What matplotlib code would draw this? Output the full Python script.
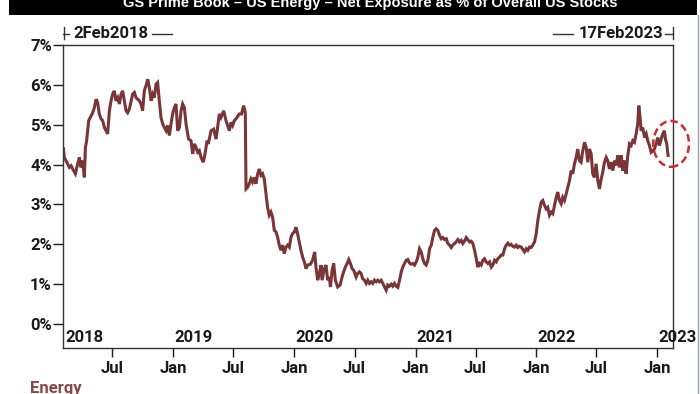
import matplotlib
matplotlib.use("Agg")
import matplotlib.pyplot as plt
import matplotlib.dates as mdates
from matplotlib.patches import Ellipse, Rectangle
from matplotlib.lines import Line2D
from datetime import datetime

# ---------------- data (decimal year, net exposure %) ----------------
years = [
    2018.091, 2018.099, 2018.113, 2018.126, 2018.140, 2018.155, 2018.168, 2018.190, 2018.209, 2018.223,
    2018.237, 2018.250, 2018.264, 2018.273, 2018.283, 2018.300, 2018.320, 2018.333, 2018.347, 2018.361,
    2018.374, 2018.388, 2018.402, 2018.416, 2018.430, 2018.444, 2018.457, 2018.471, 2018.485, 2018.498,
    2018.512, 2018.526, 2018.540, 2018.554, 2018.568, 2018.581, 2018.595, 2018.609, 2018.622, 2018.636,
    2018.664, 2018.678, 2018.692, 2018.719, 2018.733, 2018.746, 2018.760, 2018.774, 2018.788, 2018.802,
    2018.816, 2018.829, 2018.843, 2018.857, 2018.870, 2018.884, 2018.898, 2018.912, 2018.926, 2018.940,
    2018.953, 2018.967, 2018.981, 2018.994, 2019.008, 2019.022, 2019.036, 2019.050, 2019.064, 2019.077,
    2019.091, 2019.105, 2019.126, 2019.146, 2019.160, 2019.174, 2019.188, 2019.201, 2019.215, 2019.229,
    2019.248, 2019.262, 2019.279, 2019.289, 2019.312, 2019.333, 2019.353, 2019.366, 2019.380, 2019.394,
    2019.416, 2019.436, 2019.449, 2019.463, 2019.477, 2019.490, 2019.504, 2019.526, 2019.545, 2019.564,
    2019.581, 2019.595, 2019.601, 2019.614, 2019.628, 2019.642, 2019.655, 2019.669, 2019.683, 2019.697,
    2019.711, 2019.725, 2019.738, 2019.752, 2019.766, 2019.779, 2019.793, 2019.807, 2019.821, 2019.835,
    2019.849, 2019.862, 2019.876, 2019.890, 2019.903, 2019.917, 2019.931, 2019.945, 2019.959, 2019.973,
    2019.986, 2020.000, 2020.014, 2020.027, 2020.041, 2020.055, 2020.069, 2020.083, 2020.097, 2020.110,
    2020.132, 2020.151, 2020.168, 2020.179, 2020.193, 2020.207, 2020.221, 2020.229, 2020.248, 2020.262,
    2020.275, 2020.289, 2020.298, 2020.312, 2020.325, 2020.339, 2020.358, 2020.378, 2020.394, 2020.407,
    2020.421, 2020.436, 2020.449, 2020.463, 2020.477, 2020.490, 2020.510, 2020.523, 2020.537, 2020.551,
    2020.564, 2020.579, 2020.593, 2020.606, 2020.620, 2020.634, 2020.647, 2020.661, 2020.675, 2020.688,
    2020.702, 2020.717, 2020.730, 2020.744, 2020.758, 2020.771, 2020.785, 2020.799, 2020.812, 2020.826,
    2020.840, 2020.854, 2020.868, 2020.882, 2020.895, 2020.909, 2020.923, 2020.936, 2020.950, 2020.964,
    2020.978, 2020.992, 2021.006, 2021.019, 2021.033, 2021.047, 2021.060, 2021.074, 2021.088, 2021.102,
    2021.116, 2021.130, 2021.143, 2021.157, 2021.171, 2021.184, 2021.198, 2021.212, 2021.226, 2021.240,
    2021.254, 2021.267, 2021.281, 2021.295, 2021.308, 2021.322, 2021.336, 2021.350, 2021.364, 2021.378,
    2021.391, 2021.405, 2021.419, 2021.432, 2021.446, 2021.460, 2021.474, 2021.488, 2021.502, 2021.515,
    2021.529, 2021.543, 2021.556, 2021.570, 2021.584, 2021.598, 2021.612, 2021.626, 2021.639, 2021.653,
    2021.667, 2021.680, 2021.694, 2021.708, 2021.722, 2021.736, 2021.750, 2021.763, 2021.777, 2021.791,
    2021.804, 2021.818, 2021.832, 2021.846, 2021.860, 2021.874, 2021.887, 2021.901, 2021.915, 2021.928,
    2021.942, 2021.956, 2021.969, 2021.984, 2021.998, 2022.011, 2022.025, 2022.039, 2022.052, 2022.066,
    2022.080, 2022.093, 2022.107, 2022.122, 2022.135, 2022.149, 2022.163, 2022.176, 2022.190, 2022.204,
    2022.217, 2022.231, 2022.246, 2022.259, 2022.273, 2022.287, 2022.300, 2022.314, 2022.328, 2022.341,
    2022.355, 2022.369, 2022.383, 2022.397, 2022.411, 2022.424, 2022.438, 2022.452, 2022.465, 2022.479,
    2022.493, 2022.507, 2022.521, 2022.535, 2022.548, 2022.562, 2022.576, 2022.589, 2022.603, 2022.617,
    2022.631, 2022.645, 2022.659, 2022.672, 2022.686, 2022.700, 2022.713, 2022.727, 2022.741, 2022.755,
    2022.769, 2022.783, 2022.796, 2022.810, 2022.824, 2022.837, 2022.846, 2022.857, 2022.865, 2022.879,
    2022.893, 2022.907, 2022.920, 2022.934, 2022.948, 2022.961, 2022.975, 2022.989, 2023.003, 2023.017,
    2023.031, 2023.044, 2023.058, 2023.066, 2023.077, 2023.088,
]

exposure = [
    4.40, 4.18, 4.10, 4.02, 3.93, 3.97, 3.89, 3.77, 4.02, 4.18,
    3.93, 4.10, 3.68, 4.43, 4.60, 5.10, 5.22, 5.30, 5.43, 5.64,
    5.56, 5.27, 5.15, 5.10, 4.93, 4.85, 4.77, 5.35, 5.60, 5.77,
    5.85, 5.60, 5.68, 5.52, 5.77, 5.85, 5.60, 5.35, 5.30, 5.39,
    5.77, 5.81, 5.68, 5.60, 5.52, 5.35, 5.85, 5.98, 6.14, 5.93,
    5.60, 5.77, 5.68, 6.02, 6.06, 5.60, 5.18, 5.02, 4.93, 4.85,
    4.98, 4.73, 5.02, 5.27, 5.43, 5.52, 4.85, 4.93, 5.35, 5.52,
    5.43, 5.02, 4.64, 4.60, 4.27, 4.52, 4.43, 4.31, 4.35, 4.18,
    4.06, 4.27, 4.60, 4.52, 4.85, 4.89, 4.64, 4.93, 5.27, 5.18,
    5.35, 5.10, 4.98, 4.85, 5.06, 4.98, 5.10, 5.18, 5.27, 5.27,
    5.48, 5.31, 3.39, 3.43, 3.52, 3.64, 3.56, 3.68, 3.52, 3.77,
    3.89, 3.73, 3.77, 3.64, 3.27, 2.93, 2.73, 2.81, 2.68, 2.35,
    2.31, 2.18, 1.98, 1.85, 1.98, 1.77, 1.93, 1.98, 1.93, 2.18,
    2.27, 2.31, 2.43, 2.27, 2.06, 1.85, 1.68, 1.56, 1.39, 1.48,
    1.50, 1.60, 1.81, 1.43, 1.10, 1.27, 1.48, 1.10, 1.39, 1.48,
    1.10, 1.18, 0.93, 1.35, 1.52, 1.10, 0.93, 0.98, 1.18, 1.31,
    1.43, 1.52, 1.62, 1.52, 1.39, 1.35, 1.18, 1.27, 1.31, 1.27,
    1.14, 1.10, 1.02, 1.10, 1.02, 1.06, 1.02, 1.10, 1.06, 1.10,
    1.06, 1.10, 1.02, 0.93, 0.85, 0.98, 0.95, 1.00, 0.95, 1.02,
    0.95, 0.92, 1.10, 1.31, 1.43, 1.52, 1.60, 1.62, 1.53, 1.50,
    1.52, 1.48, 1.56, 1.68, 1.89, 1.81, 1.64, 1.52, 1.48, 1.60,
    1.89, 1.98, 2.18, 2.35, 2.39, 2.35, 2.23, 2.14, 2.17, 2.12,
    2.14, 2.02, 1.98, 1.92, 1.98, 2.02, 2.06, 2.12, 2.06, 2.10,
    2.02, 2.08, 2.17, 2.12, 2.06, 2.08, 2.02, 1.85, 1.64, 1.43,
    1.52, 1.48, 1.60, 1.64, 1.56, 1.52, 1.56, 1.43, 1.48, 1.60,
    1.56, 1.64, 1.68, 1.73, 1.73, 1.89, 1.98, 2.03, 1.98, 2.00,
    1.95, 1.93, 1.98, 1.92, 1.95, 1.93, 1.87, 1.81, 1.89, 1.85,
    1.93, 1.92, 1.98, 2.06, 2.27, 2.60, 2.85, 3.06, 3.10, 2.98,
    2.89, 2.93, 2.73, 2.81, 2.77, 2.98, 3.18, 3.31, 3.10, 3.02,
    3.18, 3.10, 3.27, 3.43, 3.60, 3.85, 3.77, 4.02, 4.18, 4.39,
    4.10, 4.06, 4.35, 4.56, 4.43, 4.06, 4.39, 4.27, 3.77, 3.68,
    4.02, 3.60, 3.39, 3.64, 3.81, 4.06, 4.18, 4.10, 3.89, 4.06,
    3.85, 4.10, 3.98, 4.23, 3.93, 4.23, 3.85, 4.10, 3.77, 4.23,
    4.52, 4.48, 4.60, 4.56, 4.77, 5.02, 5.48, 5.18, 4.85, 4.93,
    4.68, 4.77, 4.60, 4.48, 4.31, 4.35, 4.39, 4.52, 4.68, 4.48,
    4.64, 4.77, 4.85, 4.64, 4.52, 4.23,
]

title = "GS Prime Book \u2013 US Energy \u2013 Net Exposure as % of Overall US Stocks"
start_label = "2Feb2018"
end_label = "17Feb2023"
y_ticks = [0, 1, 2, 3, 4, 5, 6, 7]
year_labels = ["2018", "2019", "2020", "2021", "2022", "2023"]
series_name = "Energy"

# highlight ellipse (centre as decimal year / %, size in days / %)
circle_center = (2023.113, 4.52)
circle_size = (108, 1.15)

# ---------------- helpers ----------------
def yr2date(y):
    yr = int(y)
    s = datetime(yr, 1, 1)
    e = datetime(yr + 1, 1, 1)
    return s + (e - s) * (y - yr)

FONT = ['Roboto', 'DejaVu Sans']
plt.rcParams['font.family'] = FONT
plt.rcParams['font.weight'] = 'bold'
FS = 12

LINE_COLOR = '#7a3636'
DARK = '#1a1a1a'
W, H = 700, 394

fig = plt.figure(figsize=(7, 3.94), dpi=100)
ax = fig.add_axes([63 / W, 1 - 348 / H, (673 - 63) / W, (348 - 45) / H])

dates = [yr2date(y) for y in years]
ax.plot(dates, exposure, color=LINE_COLOR, lw=2.2, solid_joinstyle='miter')

x0 = datetime(2018, 2, 2)
x1 = datetime(2023, 2, 17)
ax.set_xlim(x0, x1)
ax.set_ylim(-0.6, 7)

# y axis
ax.set_yticks(y_ticks)
ax.set_yticklabels([f"{v}%" for v in y_ticks], fontsize=FS, fontweight='bold', color=DARK)
ax.tick_params(axis='y', direction='out', length=7.5, width=1, pad=0.5, color=DARK)

# x axis months
ax.xaxis.set_major_locator(mdates.MonthLocator(bymonth=[1, 7]))
ax.xaxis.set_major_formatter(mdates.DateFormatter('%b'))
ax.tick_params(axis='x', direction='out', length=6.5, width=1, pad=3, labelsize=FS, color=DARK)
for lbl in ax.get_xticklabels():
    lbl.set_fontweight('bold')
    lbl.set_color(DARK)

for s in ax.spines.values():
    s.set_linewidth(1.0)
    s.set_color('#333333')

# year labels inside the axes
for i, yl in enumerate(year_labels):
    d = x0 if i == 0 else datetime(int(yl), 1, 1)
    xoff = 1.5 if i == 0 else 0.5
    ax.annotate(yl, xy=(mdates.date2num(d), 0), xycoords=('data', 'axes fraction'),
                xytext=(xoff, 7.7), textcoords='offset points', ha='left', va='center',
                fontsize=FS, fontweight='bold', color=DARK, annotation_clip=False)

# start / end date markers above the axes
fig_tr = fig.transFigure
ymark = 33.5
for (xa, xb) in [(63, 69), (152, 172), (553, 573), (665, 673)]:
    fig.add_artist(Line2D([xa / W, xb / W], [1 - ymark / H, 1 - ymark / H],
                          transform=fig_tr, color='#333333', lw=1))
for xv in (63.5, 672.5):
    fig.add_artist(Line2D([xv / W, xv / W], [1 - 27 / H, 1 - 39 / H],
                          transform=fig_tr, color='#333333', lw=1))
fig.text(73 / W, 1 - ymark / H, start_label, ha='left', va='center', fontsize=FS,
         fontweight='bold', color=DARK)
fig.text(663 / W, 1 - ymark / H, end_label, ha='right', va='center', fontsize=FS,
         fontweight='bold', color=DARK)

# title bar (cut off at top)
fig.add_artist(Rectangle((9 / W, 1 - 15 / H), (697 - 9) / W, 15 / H, transform=fig_tr,
                         facecolor='black', edgecolor='none'))
fig.text(370 / W, 1 - 6.5 / H, title, ha='center', va='baseline', color='white',
         fontsize=10.5, fontweight='bold', family=['Liberation Sans', 'DejaVu Sans'])

# thin right frame line
fig.add_artist(Line2D([697.5 / W, 697.5 / W], [0, 1 - 15 / H], transform=fig_tr,
                      color='#9aa4b0', lw=1))

# series label at bottom (cut)
fig.text(30 / W, 1 - 381 / H, series_name, ha='left', va='top', color='#8b4545',
         fontsize=FS, fontweight='bold')

# red dashed highlight ellipse
cx = mdates.date2num(yr2date(circle_center[0]))
ell = Ellipse((cx, circle_center[1]), width=circle_size[0], height=circle_size[1],
              fill=False, edgecolor='#d42a2a', lw=1.8, linestyle=(0, (3.0, 1.6)),
              clip_on=False, zorder=5)
ax.add_patch(ell)

fig.savefig('out.png', dpi=100)
